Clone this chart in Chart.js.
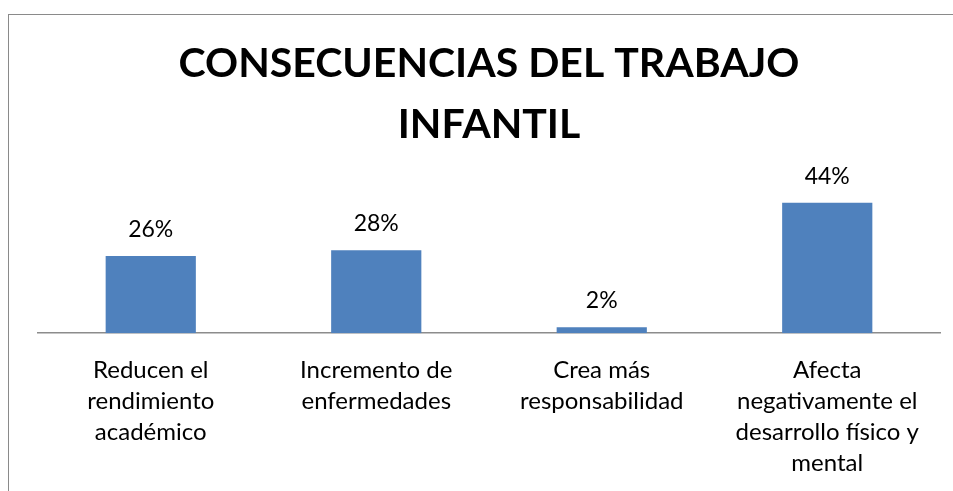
<!DOCTYPE html>
<html>
<head>
<meta charset="utf-8">
<script src="https://cdn.jsdelivr.net/npm/chart.js@4/dist/chart.umd.min.js"></script>
<style>
  html, body { margin: 0; padding: 0; background: #fff; }
  #wrap { position: relative; width: 953px; height: 491px; overflow: hidden; }
  #frame { position: absolute; left: 8px; top: 14px; width: 1000px; height: 600px;
           border-left: 1px solid #8a8a8a; border-top: 1px solid #8a8a8a; }
  canvas { position: absolute; left: 0; top: 0; }
</style>
</head>
<body>
<div id="wrap">
  <div id="frame"></div>
  <canvas id="chart" width="953" height="501"></canvas>
</div>
<script>
const categories = [
    ['Reducen el', 'rendimiento', 'académico'],
    ['Incremento de', 'enfermedades'],
    ['Crea más', 'responsabilidad'],
    ['Afecta', 'negativamente el', 'desarrollo físico y', 'mental']
];
const percentages = [26, 28, 2, 44];
const titleLines = ['CONSECUENCIAS DEL TRABAJO', 'INFANTIL'];

const fontFamily = "Lato, 'Open Sans', sans-serif";

// draws the "26%" labels above each bar
const valueLabels = {
    id: 'valueLabels',
    afterDatasetsDraw(chart) {
        const ctx = chart.ctx;
        const meta = chart.getDatasetMeta(0);
        ctx.save();
        ctx.font = `23px ${fontFamily}`;
        ctx.fillStyle = '#000';
        ctx.textAlign = 'center';
        ctx.textBaseline = 'alphabetic';
        meta.data.forEach((bar, i) => {
            ctx.fillText(percentages[i] + '%', bar.x, bar.y - 19);
        });
        ctx.restore();
    }
};

// canvas is a few px taller than the window; the overflow is clipped
const ctx = document.getElementById('chart').getContext('2d');
new Chart(ctx, {
    type: 'bar',
    data: {
        labels: categories,
        datasets: [{
            data: percentages,
            backgroundColor: '#4F81BD',
            borderWidth: 0,
            barPercentage: 0.4,
            categoryPercentage: 1
        }]
    },
    options: {
        responsive: false,
        animation: false,
        layout: { padding: { left: 38, right: 13, top: 0, bottom: 0 } },
        plugins: {
            legend: { display: false },
            tooltip: { enabled: false },
            title: {
                display: true,
                text: titleLines,
                color: '#000',
                font: { family: fontFamily, size: 41, weight: 'bold', lineHeight: 1.49 },
                padding: { top: 33, bottom: 15 }
            }
        },
        scales: {
            y: {
                display: false,
                min: 0,
                max: 55
            },
            x: {
                grid: { display: false, drawTicks: false },
                border: { display: true, color: '#8c8c8c', width: 1.5 },
                ticks: {
                    color: '#000',
                    autoSkip: false,
                    maxRotation: 0,
                    padding: 22,
                    font: { family: fontFamily, size: 24, lineHeight: 1.29 }
                }
            }
        }
    },
    plugins: [valueLabels]
});
</script>
</body>
</html>
